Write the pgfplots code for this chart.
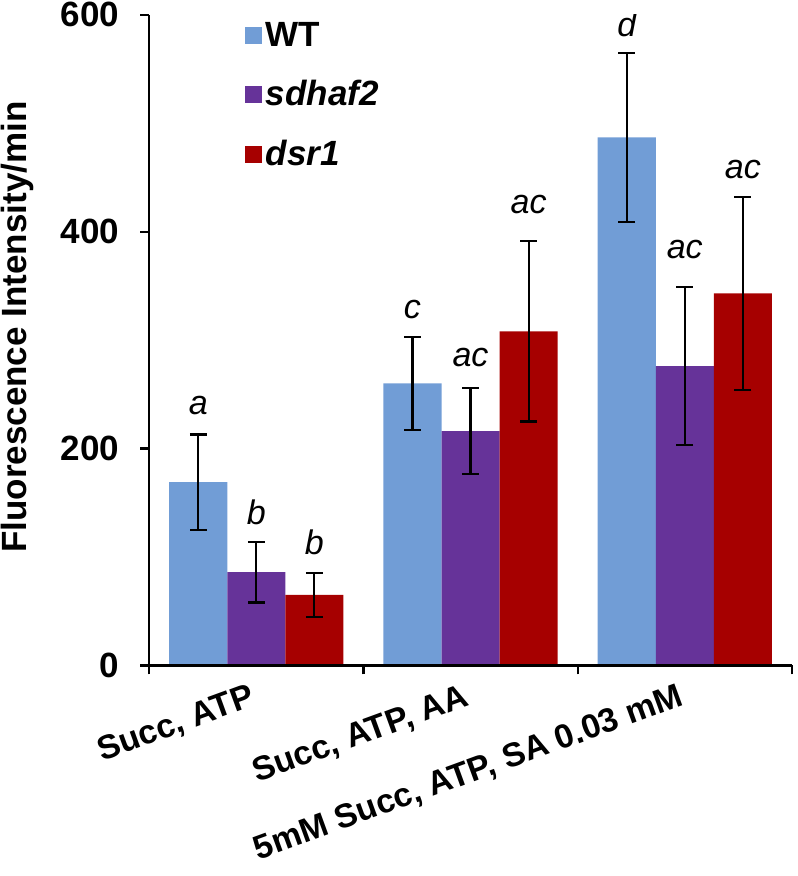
\documentclass[border=0pt]{standalone}
\usepackage{fontspec}
\setmainfont{Liberation Sans}
\usepackage{pgfplots}
\pgfplotsset{compat=1.18}

\definecolor{wt}{RGB}{113,157,214}
\definecolor{sdh}{RGB}{102,51,153}
\definecolor{dsr}{RGB}{166,0,0}

\newcommand{\lab}{\fontsize{17.5}{21}\selectfont}
\newcommand{\xlab}{\fontsize{16.8}{20}\selectfont}
\newcommand{\letr}{\fontsize{17}{20}\selectfont}

\pgfplotsset{
  sq legend/.style={legend image code/.code={\fill[##1,draw=none] (0pt,-4.25pt) rectangle (8.5pt,4.25pt);}},
}

\begin{document}
\begin{tikzpicture}
\begin{axis}[
  name=ax,
  scale only axis,
  width=321pt, height=325pt,
  ybar=0pt, bar width=29pt,
  xmin=0.5, xmax=3.5, ymin=0, ymax=600,
  axis x line*=bottom, axis y line*=left,
  axis line style={line width=1.1pt, -},
  axis on top,
  tick align=outside,
  major tick length=4.5pt,
  tick style={line width=1.1pt, black},
  xtick={0.5,1.5,2.5,3.5}, xticklabels={},
  extra x ticks={1,2,3},
  extra x tick labels={{Succ, ATP},{Succ, ATP, AA},{5mM Succ, ATP, SA 0.03 mM}},
  extra x tick style={major tick length=0pt,
    tick label style={yshift=-8.5pt, xshift=-4pt, rotate=20, anchor=north east, inner sep=0pt, font=\bfseries\xlab}},
  ytick={0,200,400,600},
  /pgf/number format/assume math mode=true,
  yticklabel style={font=\bfseries\lab, xshift=-7pt},
  ylabel={Fluorescence Intensity/min},
  ylabel style={at={(axis description cs:-0.205,0.52)}, anchor=center, font=\bfseries\lab},
  legend style={draw=none, fill=none, at={(axis description cs:0.148,0.995)}, anchor=north west,
    font=\bfseries\lab, inner sep=0pt, row sep=11.5pt},
  legend cell align=left,
  error bars/y dir=both, error bars/y explicit,
  error bars/error bar style={line width=1.1pt, black},
  error bars/error mark options={rotate=90, mark size=4.2pt, line width=1.1pt, black},
]
\addplot[fill=wt, draw=none, sq legend] coordinates {
  (1,169) +- (0,44)
  (2,260) +- (0,43)
  (3,487) +- (0,78)
};
\addlegendentry{WT}
\addplot[fill=sdh, draw=none, sq legend] coordinates {
  (1,86) +- (0,28)
  (2,216) +- (0,39.5)
  (3,276) +- (0,73)
};
\addlegendentry{\textit{sdhaf2}}
\addplot[fill=dsr, draw=none, sq legend] coordinates {
  (1,65) +- (0,20)
  (2,308) +- (0,83)
  (3,343) +- (0,89)
};
\addlegendentry{\textit{dsr1}}

\begin{scope}[every node/.style={font=\itshape\letr, anchor=base}]
\node at (0.729,231) {a};
\node at (1.0,129.7) {b};
\node at (1.271,102) {b};
\node at (1.729,319.5) {c};
\node at (2.0,275.6) {ac};
\node at (2.271,417) {ac};
\node at (2.729,580) {d};
\node at (3.0,375.5) {ac};
\node at (3.271,449) {ac};
\end{scope}
\end{axis}
\pgfresetboundingbox
\path[use as bounding box] ([xshift=-74.5pt,yshift=-105.15pt]ax.south west)
  rectangle ([xshift=3pt,yshift=7.35pt]ax.north east);
\end{tikzpicture}
\end{document}
